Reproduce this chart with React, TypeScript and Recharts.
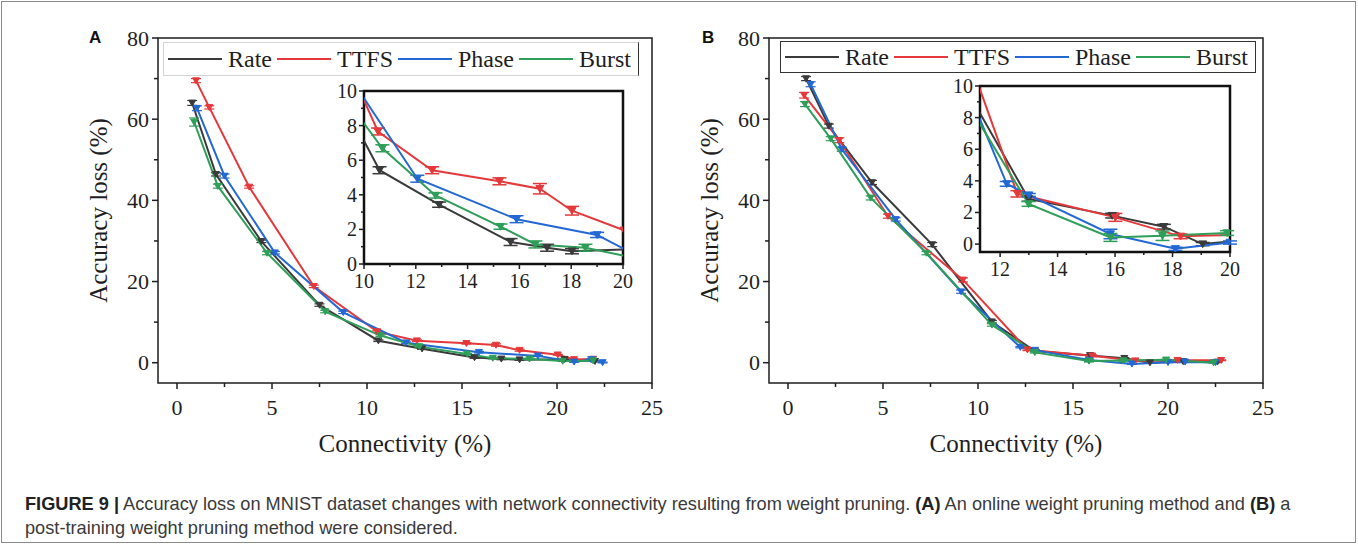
import React from 'react';
import { LineChart, Line, XAxis, YAxis, ErrorBar, Legend, ReferenceArea } from 'recharts';

const SERIES_NAMES = ['Rate', 'TTFS', 'Phase', 'Burst'];
const SERIES_COLORS = ['#3a3a3a', '#e5383b', '#2368d3', '#2e9e58'];

// (A) online weight pruning
const rateAX = [0.8, 2.05, 4.44, 7.5, 10.6, 12.9, 15.66, 17.07, 18.03, 20.4, 22.0];
const rateAY = [64.0, 46.4, 29.9, 14.2, 5.42, 3.43, 1.27, 0.94, 0.74, 0.85, 0.35];
const rateAErr = [0.6, 0.4, 0.3, 0.3, 0.2, 0.15, 0.2, 0.2, 0.15, 0.1, 0.1];
const ttfsAX = [1.0, 1.7, 3.8, 7.2, 10.54, 12.63, 15.23, 16.79, 18.03, 20.04, 20.9, 21.9];
const ttfsAY = [69.5, 62.9, 43.3, 18.8, 7.66, 5.42, 4.78, 4.35, 3.08, 1.95, 0.8, 0.9];
const ttfsAErr = [0.5, 0.4, 0.3, 0.3, 0.2, 0.2, 0.2, 0.3, 0.25, 0.1, 0.1, 0.1];
const phaseAX = [1.05, 2.5, 5.15, 8.75, 12.06, 15.89, 19.0, 20.9, 21.8, 22.4];
const phaseAY = [62.7, 46.0, 27.1, 12.4, 4.93, 2.59, 1.68, 0.2, 0.8, 0.05];
const phaseAErr = [0.6, 0.5, 0.3, 0.3, 0.2, 0.2, 0.15, 0.1, 0.1, 0.1];
const burstAX = [0.9, 2.15, 4.74, 7.8, 10.71, 12.76, 15.27, 16.62, 18.55, 20.3, 21.9];
const burstAY = [59.3, 43.5, 27.0, 12.6, 6.69, 3.96, 2.16, 1.13, 0.94, 0.4, 0.5];
const burstAErr = [1.0, 0.5, 0.4, 0.3, 0.2, 0.15, 0.15, 0.2, 0.2, 0.1, 0.1];

// (B) post-training weight pruning
const rateBX = [0.95, 2.15, 4.42, 7.59, 10.73, 12.99, 15.9, 17.7, 19.05, 20.8, 22.6];
const rateBY = [70.0, 58.3, 44.4, 29.1, 10.1, 2.86, 1.8, 1.1, 0.0, 0.3, 0.2];
const rateBErr = [0.5, 0.5, 0.5, 0.5, 0.3, 0.15, 0.15, 0.15, 0.1, 0.1, 0.1];
const ttfsBX = [0.85, 2.7, 5.26, 9.21, 12.6, 16.01, 18.28, 20.5, 22.8];
const ttfsBY = [65.9, 54.8, 36.1, 20.4, 3.18, 1.69, 0.49, 0.6, 0.6];
const ttfsBErr = [0.7, 0.6, 0.5, 0.5, 0.2, 0.25, 0.15, 0.1, 0.1];
const phaseBX = [1.19, 2.83, 5.67, 9.11, 12.23, 13.0, 15.84, 18.1, 20.0, 20.9, 22.5];
const phaseBY = [68.6, 52.6, 35.3, 17.5, 3.81, 3.1, 0.64, -0.3, 0.1, 0.2, 0.1];
const phaseBErr = [0.6, 0.5, 0.4, 0.4, 0.15, 0.1, 0.3, 0.1, 0.1, 0.1, 0.1];
const burstBX = [0.89, 2.25, 4.35, 7.29, 10.73, 12.99, 15.84, 17.65, 19.9, 22.4];
const burstBY = [63.7, 55.2, 40.6, 27.0, 9.3, 2.54, 0.42, 0.53, 0.7, 0.0];
const burstBErr = [0.6, 0.5, 0.5, 0.4, 0.3, 0.15, 0.25, 0.3, 0.15, 0.1];

const mainXTicks = [0, 2.5, 5, 7.5, 10, 12.5, 15, 17.5, 20, 22.5, 25];
const mainXLabels = [0, 5, 10, 15, 20, 25];
const mainYTicks = [0, 10, 20, 30, 40, 50, 60, 70, 80];
const mainYLabels = [0, 20, 40, 60, 80];
const insetAXTicks = [10, 11, 12, 13, 14, 15, 16, 17, 18, 19, 20];
const insetBXTicks = [12, 13, 14, 15, 16, 17, 18, 19, 20];
const insetXLabels = [10, 12, 14, 16, 18, 20];
const insetYTicks = [0, 1, 2, 3, 4, 5, 6, 7, 8, 9, 10];
const insetYLabels = [0, 2, 4, 6, 8, 10];

type Pt = { x: number; y: number; err: number };

const toPoints = (xs: number[], ys: number[], errs: number[]): Pt[] =>
  xs.map((x, i) => ({ x, y: ys[i], err: errs[i] }));

const seriesA = [
  toPoints(rateAX, rateAY, rateAErr),
  toPoints(ttfsAX, ttfsAY, ttfsAErr),
  toPoints(phaseAX, phaseAY, phaseAErr),
  toPoints(burstAX, burstAY, burstAErr),
];
const seriesB = [
  toPoints(rateBX, rateBY, rateBErr),
  toPoints(ttfsBX, ttfsBY, ttfsBErr),
  toPoints(phaseBX, phaseBY, phaseBErr),
  toPoints(burstBX, burstBY, burstBErr),
];

const SERIF = '"Liberation Serif", "Times New Roman", serif';
const SANS = '"Liberation Sans", Arial, sans-serif';
const INK = '#1e1e1e';

// ticks drawn by hand so minor ticks get no label
const makeXTick = (labels: number[], fs: number, major: number, minor: number, gap: number) => (props: any) => {
  const { x, y, payload } = props;
  const isMajor = labels.includes(payload.value);
  return (
    <g>
      <line x1={x} x2={x} y1={y} y2={y + (isMajor ? major : minor)} stroke={INK} strokeWidth={1.5} />
      {isMajor && (
        <text x={x} y={y + gap} textAnchor="middle" dominantBaseline="central" fontSize={fs} fontFamily={SERIF} fill={INK}>
          {payload.value}
        </text>
      )}
    </g>
  );
};

const makeYTick = (labels: number[], fs: number, major: number, minor: number, gap: number) => (props: any) => {
  const { x, y, payload } = props;
  const isMajor = labels.includes(payload.value);
  return (
    <g>
      <line x1={x - (isMajor ? major : minor)} x2={x} y1={y} y2={y} stroke={INK} strokeWidth={1.5} />
      {isMajor && (
        <text x={x - gap} y={y} textAnchor="end" dominantBaseline="central" fontSize={fs} fontFamily={SERIF} fill={INK}>
          {payload.value}
        </text>
      )}
    </g>
  );
};

const makeDot = (color: string, s: number) => (p: any) => {
  if (p.cx == null || p.cy == null) return <g key={p.index} />;
  const { cx, cy } = p;
  return (
    <path
      key={p.index}
      d={`M${cx - s},${cy - s * 0.8}L${cx + s},${cy - s * 0.8}L${cx},${cy + s * 0.9}Z`}
      fill={color}
      stroke={color}
      strokeWidth={1}
    />
  );
};

// error bars are not clipped by recharts, so drop the ones outside the inset window
const errInside = (xd: [number, number], yd: [number, number]) => (d: Pt) =>
  d.x >= xd[0] && d.x <= xd[1] && d.y - d.err >= yd[0] && d.y + d.err <= yd[1] ? d.err : undefined;

const renderLegend = (props: any) => {
  const items = [...(props.payload || [])].sort(
    (a: any, b: any) => SERIES_NAMES.indexOf(a.value) - SERIES_NAMES.indexOf(b.value)
  );
  return (
    <div style={{ display: 'flex', alignItems: 'center', height: '100%', paddingLeft: 4 }}>
      {items.map((p: any) => (
        <div key={p.value} style={{ display: 'flex', alignItems: 'center', marginRight: 5 }}>
          <div style={{ width: 54, borderTop: `2.5px solid ${p.color}`, marginRight: 6 }} />
          <span style={{ fontFamily: SERIF, fontSize: 24, color: INK, lineHeight: '28px' }}>{p.value}</span>
        </div>
      ))}
    </div>
  );
};

interface MainProps {
  series: Pt[][];
  left: number;
  legendLeft: number;
  legendTop: number;
  legendHeight: number;
  legendBorder: React.CSSProperties;
}

const MainPanel: React.FC<MainProps> = ({ series, left, legendLeft, legendTop, legendHeight, legendBorder }) => (
  <div style={{ position: 'absolute', left, top: 0 }}>
    <LineChart width={680} height={470} margin={{ top: 38, right: 28, left: 0, bottom: 0 }}>
      <XAxis
        type="number"
        dataKey="x"
        domain={[-1, 25]}
        ticks={mainXTicks}
        interval={0}
        height={87}
        axisLine={false}
        tickLine={false}
        tickSize={0}
        tickMargin={0}
        tick={makeXTick(mainXLabels, 22, 6, 4, 24)}
        label={{
          content: (lp: any) => (
            <text
              x={lp.viewBox.x + lp.viewBox.width / 2}
              y={lp.viewBox.y + 60}
              textAnchor="middle"
              dominantBaseline="central"
              fontSize={25}
              fontFamily={SERIF}
              fill={INK}
            >
              Connectivity (%)
            </text>
          ),
        }}
      />
      <YAxis
        type="number"
        dataKey="y"
        domain={[-5, 80]}
        ticks={mainYTicks}
        interval={0}
        width={158}
        axisLine={false}
        tickLine={false}
        tickSize={0}
        tickMargin={0}
        tick={makeYTick(mainYLabels, 22, 6, 4, 9)}
        label={{
          content: (lp: any) => {
            const cx = lp.viewBox.x + lp.viewBox.width - 60;
            const cy = lp.viewBox.y + lp.viewBox.height / 2;
            return (
              <text
                x={cx}
                y={cy}
                transform={`rotate(-90 ${cx} ${cy})`}
                textAnchor="middle"
                dominantBaseline="central"
                fontSize={25}
                fontFamily={SERIF}
                fill={INK}
              >
                Accuracy loss (%)
              </text>
            );
          },
        }}
      />
      <ReferenceArea x1={-1} x2={25} y1={-5} y2={80} fill="none" stroke={INK} strokeWidth={1.5} ifOverflow="visible" />
      <Legend
        layout="horizontal"
        verticalAlign="middle"
        wrapperStyle={{
          position: 'absolute',
          left: legendLeft,
          top: legendTop,
          width: 476,
          height: legendHeight,
          boxSizing: 'border-box',
          background: '#fff',
          ...legendBorder,
        }}
        content={renderLegend}
      />
      {series.map((pts, i) => (
        <Line
          key={SERIES_NAMES[i]}
          name={SERIES_NAMES[i]}
          data={pts}
          dataKey="y"
          type="linear"
          stroke={SERIES_COLORS[i]}
          strokeWidth={2}
          dot={makeDot(SERIES_COLORS[i], 3.5)}
          activeDot={false}
          isAnimationActive={false}
        >
          <ErrorBar dataKey="err" direction="y" width={5} stroke={SERIES_COLORS[i]} strokeWidth={1.2} isAnimationActive={false} />
        </Line>
      ))}
    </LineChart>
  </div>
);

interface InsetProps {
  series: Pt[][];
  left: number;
  top: number;
  width: number;
  height: number;
  yAxisWidth: number;
  marginTop: number;
  marginRight: number;
  xAxisHeight: number;
  xDomain: [number, number];
  yDomain: [number, number];
  xTicks: number[];
}

const InsetPanel: React.FC<InsetProps> = (p) => (
  <div style={{ position: 'absolute', left: p.left, top: p.top }}>
    <LineChart width={p.width} height={p.height} margin={{ top: p.marginTop, right: p.marginRight, left: 0, bottom: 0 }}>
      <XAxis
        type="number"
        dataKey="x"
        domain={p.xDomain}
        allowDataOverflow
        ticks={p.xTicks}
        interval={0}
        height={p.xAxisHeight}
        axisLine={false}
        tickLine={false}
        tickSize={0}
        tickMargin={0}
        tick={makeXTick(insetXLabels, 20, 5, 3, 17)}
      />
      <YAxis
        type="number"
        dataKey="y"
        domain={p.yDomain}
        allowDataOverflow
        ticks={insetYTicks}
        interval={0}
        width={p.yAxisWidth}
        axisLine={false}
        tickLine={false}
        tickSize={0}
        tickMargin={0}
        tick={makeYTick(insetYLabels, 20, 5, 3, 7)}
      />
      <ReferenceArea
        x1={p.xDomain[0]}
        x2={p.xDomain[1]}
        y1={p.yDomain[0]}
        y2={p.yDomain[1]}
        fill="none"
        stroke="#111"
        strokeWidth={2.5}
        ifOverflow="visible"
      />
      {p.series.map((pts, i) => (
        <Line
          key={SERIES_NAMES[i]}
          name={SERIES_NAMES[i]}
          data={pts}
          dataKey="y"
          type="linear"
          stroke={SERIES_COLORS[i]}
          strokeWidth={2}
          dot={makeDot(SERIES_COLORS[i], 4)}
          activeDot={false}
          isAnimationActive={false}
        >
          <ErrorBar
            dataKey={errInside(p.xDomain, p.yDomain) as any}
            direction="y"
            width={7}
            stroke={SERIES_COLORS[i]}
            strokeWidth={1.5}
            isAnimationActive={false}
          />
        </Line>
      ))}
    </LineChart>
  </div>
);

const panelLabel = (text: string, left: number) => (
  <div
    style={{
      position: 'absolute',
      left,
      top: 28,
      fontFamily: SANS,
      fontWeight: 700,
      fontSize: 17,
      color: '#111',
    }}
  >
    {text}
  </div>
);

export default function App() {
  return (
    <div
      style={{
        position: 'absolute',
        left: 0,
        top: 0,
        width: 1358,
        height: 544,
        background: '#fff',
        overflow: 'hidden',
      }}
    >
      <div
        style={{
          position: 'absolute',
          left: 1,
          top: 1,
          width: 1353,
          height: 540,
          border: '1px solid #8a8a8a',
        }}
      />
      <MainPanel
        series={seriesA}
        left={0}
        legendLeft={163}
        legendTop={42}
        legendHeight={34}
        legendBorder={{ border: '1px solid #d4d4d4', borderRight: '1.5px solid #333' }}
      />
      <MainPanel
        series={seriesB}
        left={611}
        legendLeft={169}
        legendTop={41}
        legendHeight={32}
        legendBorder={{ border: '1.5px solid #333' }}
      />
      <InsetPanel
        series={seriesA}
        left={300}
        top={80}
        width={340}
        height={215}
        yAxisWidth={64}
        marginTop={11}
        marginRight={17}
        xAxisHeight={31}
        xDomain={[10, 20]}
        yDomain={[0, 10]}
        xTicks={insetAXTicks}
      />
      <InsetPanel
        series={seriesB}
        left={915}
        top={75}
        width={340}
        height={210}
        yAxisWidth={65}
        marginTop={11}
        marginRight={25}
        xAxisHeight={33}
        xDomain={[11.3, 20]}
        yDomain={[-0.5, 10]}
        xTicks={insetBXTicks}
      />
      {panelLabel('A', 89)}
      {panelLabel('B', 702)}
      <div
        style={{
          position: 'absolute',
          left: 25,
          top: 492,
          fontFamily: SANS,
          fontSize: 18.2,
          lineHeight: '24px',
          color: '#3a3a3a',
          whiteSpace: 'nowrap',
        }}
      >
        <b style={{ color: '#222' }}>FIGURE 9 |</b> Accuracy loss on MNIST dataset changes with network connectivity
        resulting from weight pruning. <b style={{ color: '#222' }}>(A)</b> An online weight pruning method and{' '}
        <b style={{ color: '#222' }}>(B)</b> a
        <br />
        post-training weight pruning method were considered.
      </div>
    </div>
  );
}
